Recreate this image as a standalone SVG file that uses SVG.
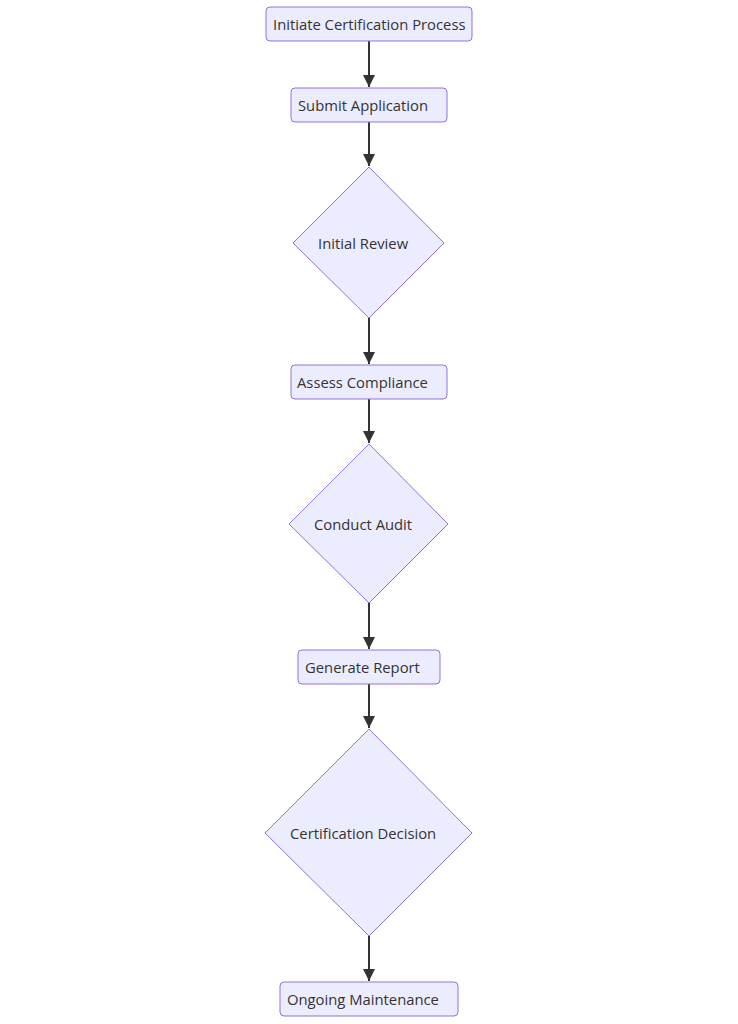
<svg xmlns="http://www.w3.org/2000/svg" width="738" height="1024" viewBox="0 0 738 1024">
<defs>
<style>
.n{fill:#ECECFF;stroke:#9370DB;stroke-width:1}
.t{font-family:"Open Sans","Noto Sans",sans-serif;font-size:14.8px;fill:#333333;dominant-baseline:central}
.e{stroke:#333333;stroke-width:2;fill:none}
</style>
<marker id="ah" viewBox="0 0 10 10" refX="10" refY="5" markerWidth="6" markerHeight="6" markerUnits="strokeWidth" orient="auto">
<path d="M0,0 L10,5 L0,10 z" fill="#333333"/>
</marker>
</defs>
<rect width="738" height="1024" fill="#ffffff"/>
<g id="edges">
<line class="e" x1="369" y1="41" x2="369" y2="87" marker-end="url(#ah)"/>
<line class="e" x1="369" y1="122" x2="369" y2="166" marker-end="url(#ah)"/>
<line class="e" x1="369" y1="318" x2="369" y2="364" marker-end="url(#ah)"/>
<line class="e" x1="369" y1="399" x2="369" y2="443" marker-end="url(#ah)"/>
<line class="e" x1="369" y1="603" x2="369" y2="649" marker-end="url(#ah)"/>
<line class="e" x1="369" y1="684" x2="369" y2="728" marker-end="url(#ah)"/>
<line class="e" x1="369" y1="936" x2="369" y2="981" marker-end="url(#ah)"/>
</g>
<g id="n1"><rect class="n" x="266" y="7" width="206" height="34" rx="4"/><text class="t" x="273" y="24">Initiate Certification Process</text></g>
<g id="n2"><rect class="n" x="291" y="88" width="156" height="34" rx="4"/><text class="t" x="298" y="104.5">Submit Application</text></g>
<g id="n3"><polygon class="n" points="369,167 444,243 369,318 293,243"/><text class="t" x="318" y="242.5">Initial Review</text></g>
<g id="n4"><rect class="n" x="291" y="365" width="156" height="34" rx="4"/><text class="t" x="297" y="381.5">Assess Compliance</text></g>
<g id="n5"><polygon class="n" points="369,444 448,524 369,603 289,524"/><text class="t" x="314" y="523.5">Conduct Audit</text></g>
<g id="n6"><rect class="n" x="298" y="650" width="142" height="34" rx="4"/><text class="t" x="305" y="666.5">Generate Report</text></g>
<g id="n7"><polygon class="n" points="369,729 472,833 369,936 265,833"/><text class="t" x="290" y="832.5">Certification Decision</text></g>
<g id="n8"><rect class="n" x="280" y="982" width="178" height="34" rx="4"/><text class="t" x="287" y="998.5">Ongoing Maintenance</text></g>
</svg>
